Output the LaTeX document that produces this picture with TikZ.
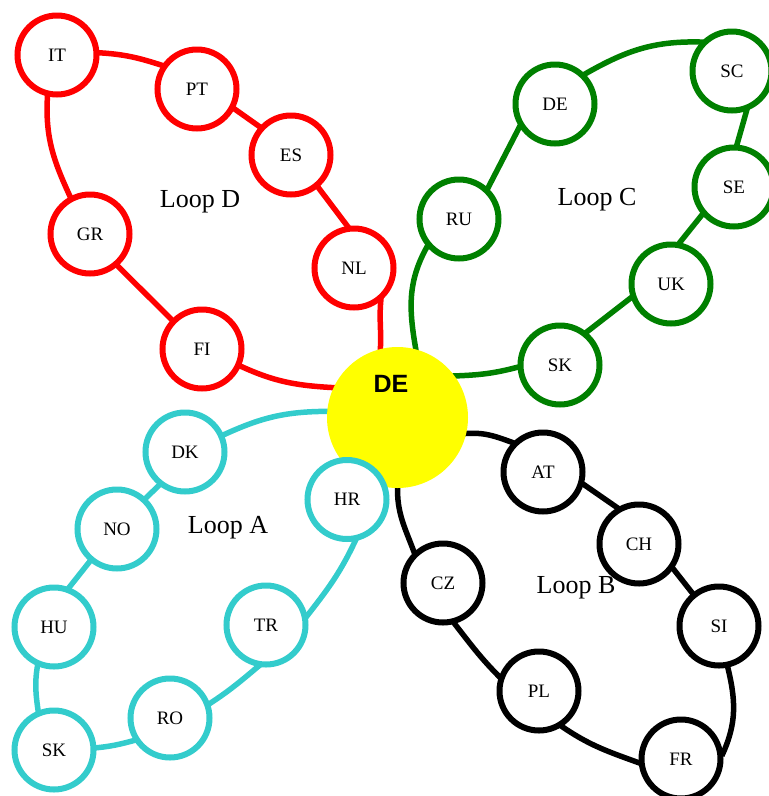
\documentclass[tikz,border=0pt]{standalone}
\usepackage{fontspec}
\setmainfont{Liberation Serif}
\newfontfamily\hubfont{Liberation Sans}
\usetikzlibrary{backgrounds}
\definecolor{loopred}{RGB}{255,0,0}
\definecolor{loopgreen}{RGB}{0,128,0}
\definecolor{loopcyan}{RGB}{51,204,204}
\definecolor{hubyellow}{RGB}{255,255,0}
\tikzset{
  country/.style={circle, draw=#1, fill=white, line width=6pt, minimum size=79pt, inner sep=0pt, font=\fontsize{19}{19}\selectfont},
  looplabel/.style={font=\fontsize{26}{26}\selectfont, inner sep=0pt},
  loopline/.style={draw=#1, line width=5.5pt, shorten <=-3pt, shorten >=-3pt},
}
\begin{document}
\begin{tikzpicture}[x=1pt,y=1pt]
\useasboundingbox (0,0) rectangle (769,-796);
% hub
\node[circle, fill=hubyellow, minimum size=141pt, inner sep=0pt] (hub) at (397.5,-417.5) {};
\node[font=\hubfont\bfseries\fontsize{25}{25}\selectfont, inner sep=0pt] (hubtext) at (391,-383.5) {DE};
% Loop D (red)
\node[country=loopred] (it) at (57,-55) {IT};
\node[country=loopred] (pt) at (197,-89) {PT};
\node[country=loopred] (es) at (291,-155) {ES};
\node[country=loopred] (nl) at (354,-268) {NL};
\node[country=loopred] (gr) at (90,-234) {GR};
\node[country=loopred] (fi) at (202,-349) {FI};
\node[looplabel] (labD) at (200,-202) {Loop D};
% Loop C (green)
\node[country=loopgreen] (ru) at (459,-219) {RU};
\node[country=loopgreen] (dec) at (555,-104) {DE};
\node[country=loopgreen] (sc) at (732,-71) {SC};
\node[country=loopgreen] (se) at (734,-187) {SE};
\node[country=loopgreen] (uk) at (671,-284) {UK};
\node[country=loopgreen] (skc) at (560,-365) {SK};
\node[looplabel] (labC) at (597,-200) {Loop C};
% Loop A (cyan)
\node[country=loopcyan] (dk) at (185,-452) {DK};
\node[country=loopcyan] (no) at (117,-529) {NO};
\node[country=loopcyan] (hu) at (54,-627) {HU};
\node[country=loopcyan] (ska) at (54,-750) {SK};
\node[country=loopcyan] (ro) at (170,-718) {RO};
\node[country=loopcyan] (tr) at (266,-625) {TR};
\node[country=loopcyan] (hr) at (347,-499.5) {HR};
\node[looplabel] (labA) at (228,-528) {Loop A};
% Loop B (black)
\node[country=black] (at) at (543,-472) {AT};
\node[country=black] (ch) at (639,-544) {CH};
\node[country=black] (si) at (719,-626) {SI};
\node[country=black] (fr) at (681,-759) {FR};
\node[country=black] (pl) at (539,-691) {PL};
\node[country=black] (cz) at (443,-583) {CZ};
\node[looplabel] (labB) at (576,-588) {Loop B};
\begin{pgfonlayer}{background}
% red loop
\draw[loopline=loopred] (hub.104) to[out=86, in=-96] (nl.-51);
\draw[loopline=loopred] (nl.99) -- (es.-50);
\draw[loopline=loopred] (es.138) -- (pt.-28);
\draw[loopline=loopred] (pt.146) to[out=162, in=-3] (it.3);
\draw[loopline=loopred] (it.-103) to[out=-94, in=115] (gr.118);
\draw[loopline=loopred] (gr.-49) -- (fi.136);
\draw[loopline=loopred] (fi.-24) to[out=-25, in=177] (hub.155);
% green loop
\draw[loopline=loopgreen] (hub.75) to[out=100, in=-120] (ru.-139);
\draw[loopline=loopgreen] (ru.47) -- (dec.-147);
\draw[loopline=loopgreen] (dec.45) to[out=30, in=178] (sc.137);
\draw[loopline=loopgreen] (sc.-70) -- (se.86);
\draw[loopline=loopgreen] (se.-139) -- (uk.78);
\draw[loopline=loopgreen] (uk.-161) -- (skc.51);
\draw[loopline=loopgreen] (skc.183) to[out=195, in=2] (hub.36);
% cyan loop
\draw[loopline=loopcyan] (hub.175) to[out=180, in=25] (dk.24);
\draw[loopline=loopcyan] (dk.-128) -- (no.47);
\draw[loopline=loopcyan] (no.-130) -- (hu.69);
\draw[loopline=loopcyan] (hu.-113) to[out=-100, in=98] (ska.112);
\draw[loopline=loopcyan] (ska.3) to[out=5, in=195] (ro.-148);
\draw[loopline=loopcyan] (ro.20) to[out=33, in=-140] (tr.-101);
\draw[loopline=loopcyan] (tr.13) to[out=52, in=-115] (hr.-79);
\draw[loopline=loopcyan] (hr) -- (hub);
% black loop
\draw[loopline=black] (hub.-13) to[out=5, in=160] (at.136);
\draw[loopline=black] (at.-17) -- (ch.121);
\draw[loopline=black] (ch.-36) -- (si.129);
\draw[loopline=black] (si.-78) to[out=-76, in=65] (fr.8);
\draw[loopline=black] (fr.185) to[out=160, in=-35] (pl.-57);
\draw[loopline=black] (pl.160) to[out=135, in=-52] (cz.-74);
\draw[loopline=black] (cz.133) to[out=110, in=-92] (hub.-90);
\end{pgfonlayer}
\end{tikzpicture}
\end{document}
